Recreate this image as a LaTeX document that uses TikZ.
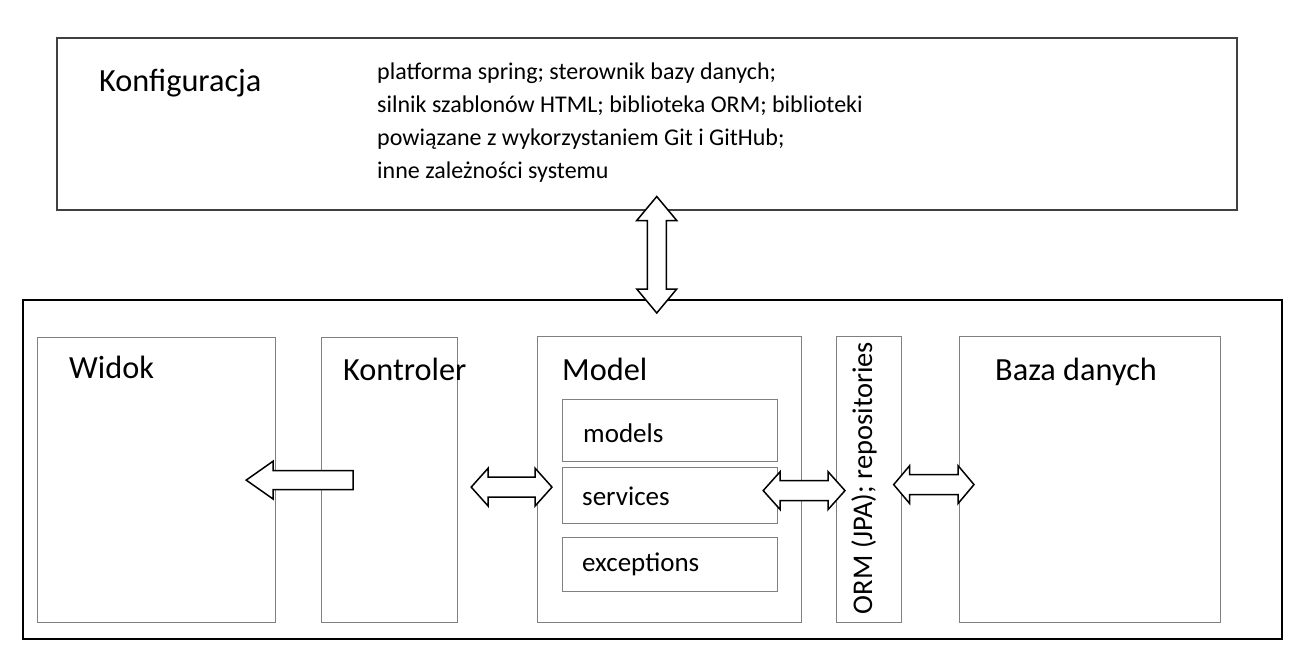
\documentclass[tikz,border=0pt]{standalone}
\usepackage{fontspec}
\setmainfont{Carlito}
\usepackage{tikz}
\usetikzlibrary{calc}

\definecolor{boxgray}{RGB}{128,128,128}
\definecolor{confgray}{RGB}{64,64,64}

\tikzset{
    box/.style={draw=boxgray, line width=1.2pt, anchor=north west, inner sep=0pt},
    confbox/.style={draw=confgray, line width=1.5pt, anchor=north west, inner sep=0pt},
    outerbox/.style={draw=black, line width=2pt, anchor=north west, inner sep=0pt},
    arrowline/.style={draw=black, fill=white, line width=1.5pt, line join=miter},
    biglbl/.style={anchor=base west, inner sep=0pt, font=\fontsize{32.3}{38}\selectfont},
    sublbl/.style={anchor=base west, inner sep=0pt, font=\fontsize{27}{32}\selectfont}
}

% block arrow with two heads, left tip to right tip
\newcommand{\dblarrow}[3]{%
    \draw[arrowline] let \p1=#1, \p2=#2 in
        (\p1) -- (\x1+#3pt,\y1+19pt) -- (\x1+#3pt,\y1+10pt) -- (\x2-#3pt,\y1+10pt)
        -- (\x2-#3pt,\y1+19pt) -- (\x2,\y1) -- (\x2-#3pt,\y1-19pt) -- (\x2-#3pt,\y1-10pt)
        -- (\x1+#3pt,\y1-10pt) -- (\x1+#3pt,\y1-19pt) -- cycle;}
% the same, top tip to bottom tip
\newcommand{\dblarrowv}[3]{%
    \draw[arrowline] let \p1=#1, \p2=#2 in
        (\p1) -- (\x1+20pt,\y1-#3pt) -- (\x1+9.5pt,\y1-#3pt) -- (\x1+9.5pt,\y2+#3pt)
        -- (\x1+20pt,\y2+#3pt) -- (\x1,\y2) -- (\x1-20pt,\y2+#3pt) -- (\x1-9.5pt,\y2+#3pt)
        -- (\x1-9.5pt,\y1-#3pt) -- (\x1-20pt,\y1-#3pt) -- cycle;}

\begin{document}
\begin{tikzpicture}[x=1pt, y=-1pt]
    \useasboundingbox (0,0) rectangle (1296,654);

    % configuration
    \node[confbox, minimum width=1180pt, minimum height=172pt] (config) at (56,37) {};
    \node[biglbl] (configlbl) at (99,91) {Konfiguracja};
    \node[anchor=north west, inner sep=0pt, align=left, font=\fontsize{24}{33}\selectfont] (deps) at (377,63)
        {platforma spring; sterownik bazy danych;\\
         silnik szablonów HTML; biblioteka ORM; biblioteki\\
         powiązane z wykorzystaniem Git i GitHub;\\
         inne zależności systemu};

    % application
    \node[outerbox, minimum width=1259pt, minimum height=339pt] (app) at (22,299) {};

    \node[box, minimum width=238pt, minimum height=285pt] (widok) at (37,337) {};
    \node[biglbl] (widoklbl) at (69,378) {Widok};

    \node[box, minimum width=136pt, minimum height=285pt] (kontroler) at (321,337) {};
    \node[biglbl] (kontrolerlbl) at (343,380) {Kontroler};

    \node[box, minimum width=264pt, minimum height=286pt] (model) at (537,336) {};
    \node[biglbl] (modellbl) at (562,380) {Model};
    \node[box, minimum width=215pt, minimum height=62pt] (models) at (562,399) {};
    \node[sublbl] (modelslbl) at (583,442) {models};
    \node[box, minimum width=215pt, minimum height=56pt] (services) at (562,467) {};
    \node[sublbl] (serviceslbl) at (582,505) {services};
    \node[box, minimum width=215pt, minimum height=54pt] (exceptions) at (562,537) {};
    \node[sublbl] (exceptionslbl) at (582,571) {exceptions};

    \node[box, minimum width=65pt, minimum height=286pt] (orm) at (836,336) {};
    \node[rotate=90, inner sep=0pt, font=\fontsize{28.5}{34}\selectfont] (ormlbl) at (864,478) {ORM (JPA); repositories};

    \node[box, minimum width=261pt, minimum height=286pt] (baza) at (959,336) {};
    \node[biglbl] (bazalbl) at (995,380) {Baza danych};

    % arrows
    \dblarrowv{($(config.south)+(10,-14)$)}{($(app.north)+(4.5,14)$)}{24}
    \draw[arrowline] let \p1=($(kontroler.west)+(32,0)$), \p2=($(widok.east)+(-30,0)$) in
        (\p1) -- (\x1,\y1+9.5pt) -- (\x2+27pt,\y1+9.5pt) -- (\x2+27pt,\y1+19pt) -- (\p2)
        -- (\x2+27pt,\y1-19pt) -- (\x2+27pt,\y1-9.5pt) -- (\x1,\y1-9.5pt) -- cycle;
    \dblarrow{($(kontroler.east)+(13,7)$)}{($(model.west)+(15,7)$)}{17}
    \dblarrow{($(services.east)+(-15,-5)$)}{($(orm.west)+(9,11)$)}{17}
    \dblarrow{($(orm.east)+(-8.5,5)$)}{($(baza.west)+(15,5)$)}{16}
\end{tikzpicture}
\end{document}
